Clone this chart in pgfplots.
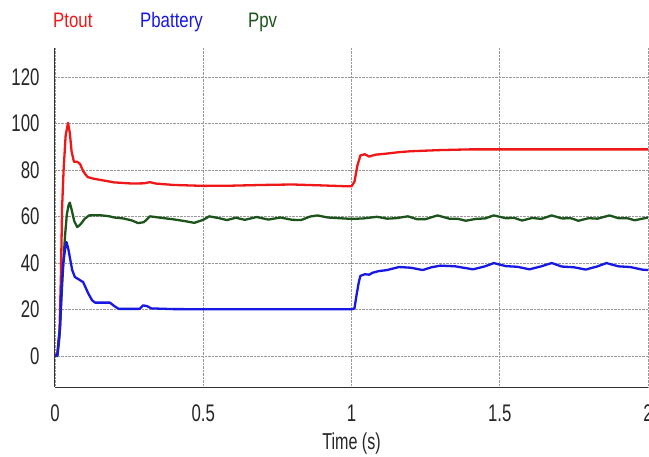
\documentclass[border=0pt]{standalone}
\usepackage{fontspec}
\setmainfont{Liberation Sans}
\newfontfamily\tickfont{Liberation Sans}[FakeStretch=0.7]
\newfontfamily\legfont{Liberation Sans}[FakeStretch=0.8]
\usepackage{pgfplots}
\pgfplotsset{compat=1.18}
\definecolor{cred}{RGB}{238,24,24}
\definecolor{cblue}{RGB}{24,24,228}
\definecolor{cgreen}{RGB}{28,84,28}
\begin{document}
\begin{tikzpicture}
\begin{axis}[
  name=ax,
  scale only axis,
  width=593pt, height=339pt,
  xmin=0, xmax=2, ymin=-13.3, ymax=132.5,
  axis x line*=bottom, axis y line*=left,
  axis line style={-, line width=1pt, black!80},
  xtick={0,0.5,1,1.5,2}, ytick={0,20,...,120},
  major tick length=0pt,
  grid=major,
  major grid style={densely dotted, gray!80, line width=0.7pt},
  /pgf/number format/assume math mode=true,
  ticklabel style={font=\tickfont\fontsize{24}{28}\selectfont, black!85},
  yticklabel style={anchor=east, xshift=-12pt},
  xticklabel style={yshift=-14pt},
  xlabel={Time (s)},
  xlabel style={font=\tickfont\fontsize{23}{26}\selectfont, black!85, yshift=-4pt},
  every axis plot/.append style={line width=2.3pt, line join=round},
]
\addplot[cred] coordinates {
(0,0) (0.008,1) (0.015,10) (0.02,35) (0.024,64) (0.029,80) (0.036,95) (0.044,100.3)
(0.05,96) (0.056,88) (0.064,83.5) (0.075,83.6) (0.085,82.5) (0.095,79.5) (0.11,77)
(0.13,76.3) (0.16,75.6) (0.2,74.7) (0.26,74.2) (0.3,74.3) (0.32,74.8) (0.34,74.2)
(0.4,73.6) (0.5,73.2) (0.6,73.3) (0.7,73.6) (0.8,73.8) (0.9,73.4) (0.99,73) (1.0,73)
(1.01,75) (1.02,82) (1.03,86.3) (1.045,86.8) (1.06,85.8) (1.08,86.6) (1.12,87.1)
(1.16,87.7) (1.2,88.1) (1.3,88.6) (1.4,88.9) (2.0,88.9)
};
\addplot[cgreen] coordinates {
(0,0) (0.008,0) (0.015,8) (0.022,25) (0.028,40) (0.034,52) (0.04,61) (0.046,65) (0.05,66)
(0.056,63) (0.065,58) (0.075,55.5) (0.085,56.5) (0.1,59) (0.115,60.5) (0.15,60.6)
(0.18,60.2) (0.2,59.6) (0.23,59.2) (0.26,58.3) (0.28,57.2) (0.3,57.6) (0.32,60.1)
(0.35,59.6) (0.4,58.8) (0.44,58.0) (0.47,57.3) (0.5,58.6) (0.52,60.1) (0.55,59.4)
(0.58,58.5) (0.61,59.5) (0.64,58.6) (0.68,59.8) (0.72,58.7) (0.76,59.6) (0.8,58.6)
(0.83,58.5) (0.86,60) (0.885,60.5) (0.92,59.6) (0.96,59.3) (1.0,59) (1.04,59.2)
(1.086,59.9) (1.12,59.1) (1.15,59.3) (1.19,60.1) (1.22,58.9) (1.25,58.9) (1.29,60.5)
(1.33,59.1) (1.36,59.0) (1.385,58.2) (1.42,59.0) (1.45,59.2) (1.48,60.5) (1.52,59.3)
(1.55,59.4) (1.575,58.3) (1.61,59.4) (1.64,59.0) (1.675,60.5) (1.71,59.2) (1.74,59.3)
(1.765,58.2) (1.80,59.3) (1.83,59.1) (1.87,60.5) (1.9,59.3) (1.93,59.3) (1.955,58.4)
(2.0,59.6)
};
\addplot[cblue] coordinates {
(0,0) (0.008,0.5) (0.013,8) (0.017,12) (0.022,30) (0.028,40) (0.034,46) (0.039,49)
(0.045,46) (0.05,42.5) (0.058,37) (0.067,34) (0.08,33) (0.095,31.8) (0.112,27)
(0.125,24) (0.135,23) (0.185,23) (0.2,21.5) (0.215,20.3) (0.285,20.3) (0.297,21.8)
(0.31,21.5) (0.325,20.5) (0.4,20.2) (0.6,20.1) (0.8,20.1) (1.0,20.1)
(1.01,20.5) (1.018,27) (1.025,32) (1.03,34.5) (1.045,35.2) (1.06,35.0) (1.07,35.8)
(1.09,36.5) (1.12,37) (1.16,38.3) (1.2,38) (1.24,37) (1.27,38.2) (1.3,38.9)
(1.35,38.6) (1.41,37.3) (1.45,38.6) (1.48,40) (1.52,38.7) (1.56,38.4) (1.6,37.3)
(1.64,38.6) (1.675,40) (1.71,38.5) (1.75,38.2) (1.79,37.2) (1.83,38.6) (1.86,40)
(1.9,38.6) (1.94,38.3) (1.98,37.2) (2.0,37)
};
\end{axis}
\node[anchor=base west, text=cred, inner sep=0pt, font=\legfont\fontsize{21}{24}\selectfont] at ([shift={(-2pt,20pt)}]ax.north west) {Ptout};
\node[anchor=base west, text=cblue, inner sep=0pt, font=\legfont\fontsize{21}{24}\selectfont] at ([shift={(85pt,20pt)}]ax.north west) {Pbattery};
\node[anchor=base west, text=cgreen, inner sep=0pt, font=\legfont\fontsize{21}{24}\selectfont] at ([shift={(193pt,20pt)}]ax.north west) {Ppv};
\pgfresetboundingbox
\path[use as bounding box] (ax.south west) ++(-55pt,-69pt) rectangle ++(649pt,456pt);
\end{tikzpicture}
\end{document}
